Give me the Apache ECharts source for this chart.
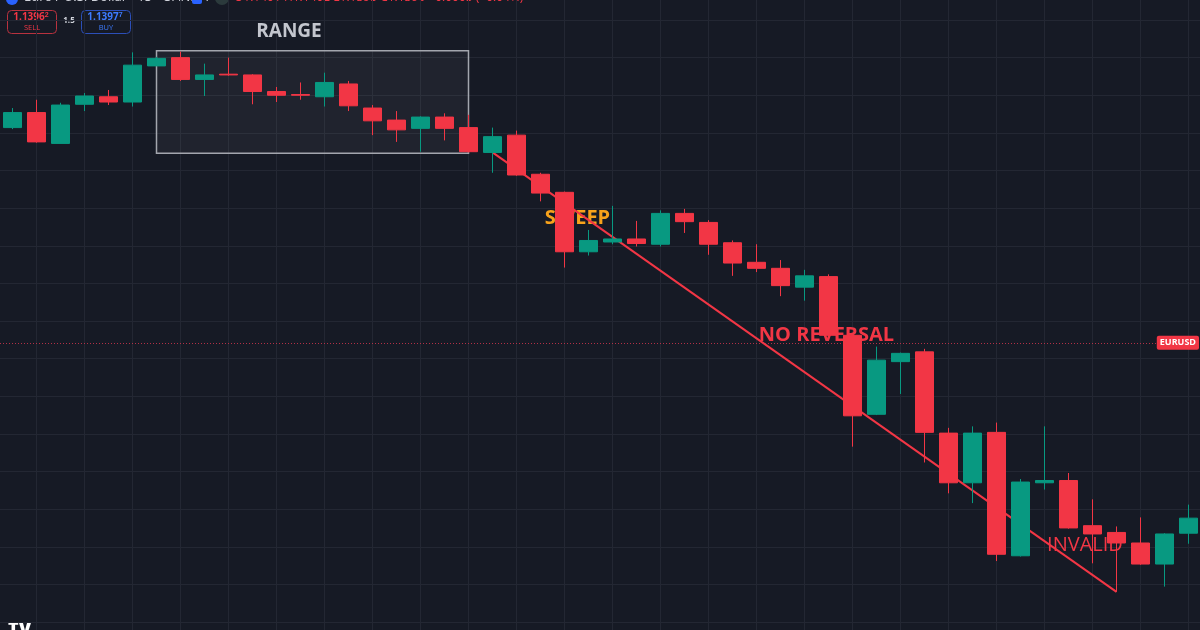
<!DOCTYPE html>
<html>
<head>
<meta charset="utf-8">
<script src="https://cdn.jsdelivr.net/npm/echarts@6/dist/echarts.min.js"></script>
<style>
html,body{margin:0;padding:0;background:#161a25;}
#chart{width:1200px;height:630px;}
</style>
</head>
<body>
<div id="chart"></div>
<script>
// ---------- DATA ----------
const categories = [
  '08:00','08:15','08:30','08:45','09:00','09:15','09:30','09:45','10:00','10:15',
  '10:30','10:45','11:00','11:15','11:30','11:45','12:00','12:15','12:30','12:45',
  '13:00','13:15','13:30','13:45','14:00','14:15','14:30','14:45','15:00','15:15',
  '15:30','15:45','16:00','16:15','16:30','16:45','17:00','17:15','17:30','17:45',
  '18:00','18:15','18:30','18:45','19:00','19:15','19:30','19:45','20:00','20:15'
];
const opens = [
  1.14507,1.14527,1.14486,1.14538,1.14548,1.14541,1.14589,1.14600,1.14571,1.14578,
  1.14577,1.14555,1.14551,1.14548,1.14565,1.14533,1.14517,1.14506,1.14521,1.14507,
  1.14474,1.14497,1.14445,1.14421,1.14342,1.14355,1.14359,1.14352,1.14393,1.14381,
  1.14354,1.14328,1.14320,1.14295,1.14309,1.14231,1.14126,1.14196,1.14209,1.14101,
  1.14035,1.14102,1.13938,1.14035,1.14038,1.13978,1.13969,1.13955,1.13927,1.13968
];
const closes = [
  1.14527,1.14488,1.14537,1.14549,1.14541,1.14590,1.14599,1.14571,1.14577,1.14577,
  1.14555,1.14550,1.14550,1.14567,1.14536,1.14516,1.14504,1.14521,1.14506,1.14475,
  1.14495,1.14444,1.14420,1.14342,1.14357,1.14359,1.14353,1.14393,1.14382,1.14352,
  1.14327,1.14320,1.14297,1.14310,1.14231,1.14124,1.14198,1.14207,1.14102,1.14035,
  1.14101,1.13940,1.14036,1.14038,1.13975,1.13967,1.13955,1.13927,1.13967,1.13988
];
const lows = [
  1.14505,1.14487,1.14486,1.14529,1.14537,1.14535,1.14589,1.14569,1.14549,1.14576,
  1.14538,1.14541,1.14544,1.14535,1.14529,1.14497,1.14488,1.14475,1.14490,1.14474,
  1.14447,1.14443,1.14409,1.14321,1.14337,1.14352,1.14349,1.14349,1.14367,1.14338,
  1.14310,1.14315,1.14283,1.14277,1.14230,1.14083,1.14125,1.14153,1.14062,1.14021,
  1.14008,1.13931,1.13937,1.14026,1.13974,1.13928,1.13890,1.13926,1.13897,1.13954
];
const highs = [
  1.14533,1.14544,1.14540,1.14553,1.14557,1.14607,1.14601,1.14608,1.14592,1.14600,
  1.14578,1.14561,1.14567,1.14580,1.14569,1.14537,1.14529,1.14522,1.14526,1.14524,
  1.14507,1.14503,1.14447,1.14422,1.14371,1.14403,1.14383,1.14397,1.14399,1.14384,
  1.14357,1.14352,1.14331,1.14318,1.14312,1.14232,1.14216,1.14208,1.14213,1.14108,
  1.14110,1.14115,1.14040,1.14110,1.14048,1.14013,1.13977,1.13989,1.13968,1.14006
];
// trend line (from candle index to candle index)
const trendIdx = [20, 46];
const trendPrice = [1.14474, 1.13890];
// range box
const rangeIdx = [6, 19];
const rangePrice = [1.14609, 1.14473];
// text annotations
const labelTexts = ['RANGE', 'SWEEP', 'NO REVERSAL', 'INVALID'];
const labelIdx = [12, 24, 34, 45];
const labelPrice = [1.14634, 1.14386, 1.14231, 1.13952];
// symbol price line
const eurusdLevel = 1.14221;
// price grid
const gridMin = 1.1385, gridMax = 1.1465, gridStep = 0.0005;

// ---------- LAYOUT ----------
const W = 1200, H = 630;
const gTop = 20, gBottom = 8;
const pxPerPrice = (H - gTop - gBottom) / (gridMax - gridMin);
const yMin2 = gridMin - gBottom / pxPerPrice;
const yMax2 = gridMax + gTop / pxPerPrice;

const UP = '#089981', DOWN = '#f23645';
const GRID = '#232733';
const FONT = '"Open Sans", "Noto Sans", sans-serif';

const labelStyles = [
  {color: '#c3c6ce', fontSize: 19, fontWeight: 'bold', offset: [-11.5, 0]},
  {color: '#f7a21b', fontSize: 20, fontWeight: 'bold', offset: [-11, 0]},
  {color: '#f23645', fontSize: 20, fontWeight: 'bold', offset: [-2, 0]},
  {color: '#f23645', fontSize: 20, fontWeight: 'normal', offset: [-7.5, 0]}
];

const candleData = categories.map((_, i) => [opens[i], closes[i], lows[i], highs[i]]);

const chart = echarts.init(document.getElementById('chart'), null, {renderer: 'canvas'});

const option = {
  animation: false,
  backgroundColor: '#161a25',
  textStyle: {fontFamily: FONT},
  grid: [
    {left: 0, right: 0, top: gTop, bottom: gBottom, containLabel: false},
    {left: 12.5, right: 11.5, top: 0, bottom: 0, containLabel: false}
  ],
  xAxis: [
    {gridIndex: 0, type: 'value', min: 0, max: 1, show: false},
    {
      gridIndex: 1, type: 'category', data: categories, boundaryGap: false,
      axisLine: {show: false}, axisTick: {show: false}, axisLabel: {show: false},
      splitLine: {show: true, interval: (i) => i % 2 === 1, lineStyle: {color: GRID, width: 1}}
    }
  ],
  yAxis: [
    {
      gridIndex: 0, type: 'value', min: gridMin, max: gridMax, interval: gridStep,
      axisLine: {show: false}, axisTick: {show: false}, axisLabel: {show: false},
      splitLine: {show: true, lineStyle: {color: GRID, width: 1}}
    },
    {gridIndex: 1, type: 'value', min: yMin2, max: yMax2, show: false, splitLine: {show: false}}
  ],
  series: [
    {
      // symbol price line + tag
      type: 'line', xAxisIndex: 0, yAxisIndex: 0, silent: true, z: 6,
      data: [[1, eurusdLevel]], symbol: 'none', lineStyle: {opacity: 0},
      markLine: {
        silent: true, symbol: ['none', 'none'],
        label: {show: false},
        lineStyle: {color: '#c2334a', type: [1, 2], width: 1, opacity: 0.9},
        data: [[{coord: [0, eurusdLevel]}, {coord: [0.967, eurusdLevel]}]]
      },
      markPoint: {
        silent: true, symbol: 'rect', symbolSize: 0,
        label: {
          show: true, position: 'left', distance: 1, formatter: 'EURUSD',
          backgroundColor: '#f23645', color: '#ffffff', fontSize: 9, fontWeight: 'bold',
          fontFamily: FONT, padding: [3, 3, 2, 3], borderRadius: 2
        },
        data: [{coord: [1, eurusdLevel]}]
      }
    },
    {
      // text annotations + range box (below candles)
      type: 'scatter', xAxisIndex: 1, yAxisIndex: 1, silent: true, z: 3,
      symbolSize: 1, itemStyle: {color: 'rgba(0,0,0,0)', opacity: 1},
      data: labelTexts.map((t, i) => ({
        name: t, value: [labelIdx[i], labelPrice[i]],
        label: {
          show: true, position: 'inside', formatter: t, fontFamily: FONT,
          color: labelStyles[i].color, fontSize: labelStyles[i].fontSize,
          fontWeight: labelStyles[i].fontWeight, offset: labelStyles[i].offset
        }
      })),
      markArea: {
        silent: true,
        itemStyle: {color: 'rgba(255,255,255,0.045)', borderColor: '#a3a6ae', borderWidth: 1.5},
        data: [[{coord: [rangeIdx[0], rangePrice[0]]}, {coord: [rangeIdx[1], rangePrice[1]]}]]
      }
    },
    {
      type: 'line', xAxisIndex: 1, yAxisIndex: 1, silent: true, z: 4,
      data: trendIdx.map((x, i) => [x, trendPrice[i]]),
      symbol: 'none', lineStyle: {color: '#f23645', width: 2}
    },
    {
      type: 'candlestick', xAxisIndex: 1, yAxisIndex: 1, silent: true, z: 5,
      clip: false, barWidth: 18,
      data: candleData,
      itemStyle: {color: UP, color0: DOWN, borderColor: UP, borderColor0: DOWN, borderWidth: 1}
    }
  ],
  graphic: [
    // header (cut off at top)
    {type: 'circle', shape: {cx: 12, cy: -1, r: 6}, style: {fill: '#2962ff'}},
    {type: 'text', x: 24, y: 4, style: {text: 'Euro / U.S. Dollar · 15 · OANDA', fill: '#d1d4dc', font: '13px ' + FONT, textVerticalAlign: 'bottom'}},
    {type: 'rect', shape: {x: 192, y: -6, width: 10, height: 10, r: 2}, style: {fill: '#2962ff'}},
    {type: 'circle', shape: {cx: 222, cy: -2, r: 7}, style: {fill: '#2b3a3c'}},
    {type: 'text', x: 234, y: 4, style: {text: 'O1.1401 H1.1402 L1.1395 C1.1396 −0.0005 (−0.04%)', fill: '#f23645', font: '12px ' + FONT, textVerticalAlign: 'bottom'}},
    // SELL widget
    {type: 'rect', shape: {x: 7.5, y: 10.5, width: 49, height: 23, r: 4}, style: {fill: '#161a25', stroke: '#b8323f', lineWidth: 1}},
    {type: 'text', x: 31, y: 17, style: {text: '1.1396{s|2}', rich: {s: {fontSize: 7, fill: '#f23645', fontWeight: 'bold', verticalAlign: 'top'}}, fill: '#f23645', font: 'bold 10px ' + FONT, textAlign: 'center', textVerticalAlign: 'middle'}},
    {type: 'text', x: 32, y: 27.5, style: {text: 'SELL', fill: '#f23645', font: '7.5px ' + FONT, textAlign: 'center', textVerticalAlign: 'middle'}},
    {type: 'text', x: 69, y: 21, style: {text: '1.5', fill: '#d1d4dc', font: 'bold 8px ' + FONT, textAlign: 'center', textVerticalAlign: 'middle'}},
    // BUY widget
    {type: 'rect', shape: {x: 81.5, y: 10.5, width: 49, height: 23, r: 4}, style: {fill: '#161a25', stroke: '#2c4fb8', lineWidth: 1}},
    {type: 'text', x: 105, y: 17, style: {text: '1.1397{s|7}', rich: {s: {fontSize: 7, fill: '#3d7bff', fontWeight: 'bold', verticalAlign: 'top'}}, fill: '#3d7bff', font: 'bold 10px ' + FONT, textAlign: 'center', textVerticalAlign: 'middle'}},
    {type: 'text', x: 106, y: 27.5, style: {text: 'BUY', fill: '#3d7bff', font: '7.5px ' + FONT, textAlign: 'center', textVerticalAlign: 'middle'}},
    // logo (cut off at bottom)
    {type: 'text', x: 8, y: 621, style: {text: 'TV', fill: '#ffffff', font: '900 18px ' + FONT, textVerticalAlign: 'top'}}
  ]
};
chart.setOption(option);
</script>
</body>
</html>
